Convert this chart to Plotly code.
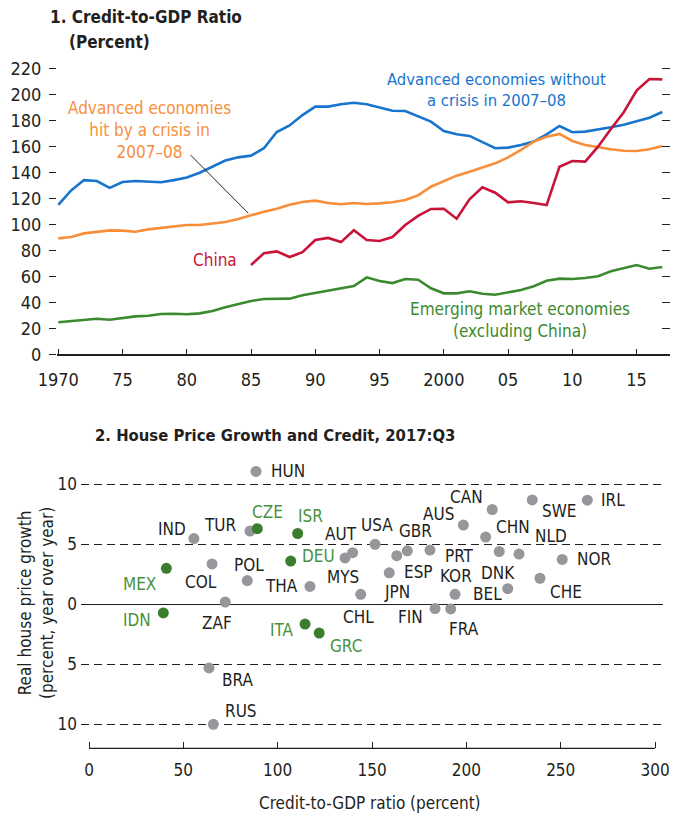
import plotly.graph_objects as go

# ---------------- Panel 1 data ----------------
years = list(range(1970, 2018))
adv_no_crisis = [115, 126, 134, 133.3, 128, 132.5, 133.3, 132.8, 132.3, 134, 136, 139.7, 144.3, 149, 151.5, 152.8,
                 158.5, 171, 176, 184, 190.5, 190.5, 192.3, 193.5, 192.3, 190, 187.4, 187.2, 182.8, 179, 171.8, 169.2,
                 168, 163, 158.5, 159, 161, 163.6, 169.2, 175.6, 170.8, 171.3, 172.8, 174.6, 176.6, 179.2, 182, 186.4]
adv_crisis = [89.2, 90.2, 93, 94.3, 95.3, 95.1, 94.3, 96.1, 97.4, 98.7, 99.5, 99.5, 100.7, 101.8, 104, 106.9,
              109.7, 112, 115.1, 117.2, 118.2, 116.4, 115.4, 116.4, 115.6, 116.1, 116.9, 118.7, 122.3, 128.9, 133.3, 137.4,
              140.5, 143.8, 146.9, 151.5, 157.2, 163.6, 167.4, 169.5, 164.1, 161, 159.2, 157.7, 156.6, 156.4, 157.7, 160.2]
china_years = list(range(1985, 2018))
china = [68.7, 77.7, 79.2, 74.8, 78.5, 87.9, 89.5, 86.3, 95.4, 87.9, 87.2, 90.2, 99.5, 106.4, 111.8, 112, 104.3,
         119.2, 128.5, 124.3, 116.9, 117.7, 116.4, 114.8, 144.3, 148.7, 148.2, 159.7, 173.3, 186.2, 202.8, 211.8, 211.5]
em_ex_china = [24.6, 25.6, 26.1, 27.4, 26.6, 27.9, 29.2, 29.7, 31, 31.2, 30.8, 31.5, 33.3, 36.2, 38.5, 41,
               42.5, 42.8, 42.8, 45.4, 47.2, 48.5, 50.5, 52.5, 59.2, 56.4, 54.8, 57.9, 57.4, 50.8, 46.9, 46.9,
               48.5, 46.6, 45.8, 47.4, 49.5, 52.3, 56.6, 58.2, 57.9, 58.7, 60, 63.8, 66.4, 68.7, 65.8, 67.2]
p1_xtick_vals = [1970, 1975, 1980, 1985, 1990, 1995, 2000, 2005, 2010, 2015]
p1_xtick_text = ["1970", "75", "80", "85", "90", "95", "2000", "05", "10", "15"]
p1_ytick_vals = list(range(0, 221, 20))

# ---------------- Panel 2 data ----------------
countries = ["HUN", "IND", "TUR", "CZE", "ISR", "DEU", "COL", "POL", "THA", "MEX", "IDN", "ZAF", "ITA", "GRC",
             "MYS", "AUT", "USA", "GBR", "ESP", "JPN", "PRT", "KOR", "FIN", "FRA", "CHL", "AUS", "CAN", "CHN",
             "DNK", "NLD", "BEL", "SWE", "IRL", "NOR", "CHE", "BRA", "RUS"]
credit_gdp = [88.5, 55.6, 85.3, 89.2, 110.6, 106.9, 65.2, 83.9, 117.1, 41.0, 39.4, 72.2, 114.5, 122.0,
              135.7, 139.7, 151.6, 168.7, 163.1, 159.1, 180.7, 194.0, 183.4, 191.7, 144.0, 198.4, 213.7, 210.2,
              217.4, 227.9, 221.9, 234.9, 264.1, 250.8, 239.0, 63.6, 65.9]
house_growth = [11.07, 5.48, 6.1, 6.3, 5.9, 3.6, 3.36, 1.98, 1.49, 3.0, -0.72, 0.19, -1.65, -2.4,
                3.86, 4.3, 5.0, 4.46, 4.05, 2.62, 4.52, 0.83, -0.36, -0.39, 0.83, 6.6, 7.9, 5.6,
                4.4, 4.19, 1.3, 8.7, 8.68, 3.74, 2.17, -5.3, -10.0]
highlighted = ["CZE", "ISR", "DEU", "MEX", "IDN", "ITA", "GRC"]
p2_xtick_vals = [0, 50, 100, 150, 200, 250, 300]
p2_ytick_vals = [-10, -5, 0, 5, 10]
p2_ytick_text = ["10", "5", "0", "5", "10"]

# label placement (pixel offsets from the point, anchor)
label_pos = {
    "HUN": (13, 0, "left"), "IND": (-6, 10, "right"), "TUR": (-11, 6, "right"), "CZE": (10, 17, "center"),
    "ISR": (13, 18, "center"), "DEU": (9, 5, "left"), "COL": (-11, -18, "center"), "POL": (2, 16, "center"),
    "THA": (-10, 0, "right"), "MEX": (-8, -16, "right"), "IDN": (-10, -7, "right"), "ZAF": (-8, -21, "center"),
    "ITA": (-9, -6, "right"), "GRC": (9, -13, "left"), "MYS": (-2, -19, "center"), "AUT": (-12, 19, "center"),
    "USA": (2, 19, "center"), "GBR": (8, 20, "center"), "ESP": (22, -16, "center"), "JPN": (8, -19, "center"),
    "PRT": (13, -6, "left"), "KOR": (1, 18, "center"), "FIN": (-10, -8, "right"), "FRA": (13, -20, "center"),
    "CHL": (-2, -23, "center"), "AUS": (-7, 11, "right"), "CAN": (-7, 12, "right"), "CHN": (8, 10, "left"),
    "DNK": (-1, -21, "center"), "NLD": (14, 18, "left"), "BEL": (-4, -5, "right"), "SWE": (8, -11, "left"),
    "IRL": (12, 0, "left"), "NOR": (13, 0, "left"), "CHE": (8, -14, "left"), "BRA": (11, -12, "left"),
    "RUS": (10, 13, "left"),
}

FONT = "DejaVu Sans Condensed, Liberation Sans Narrow, sans-serif"
BLACK = "#231F20"
BLUE = "#1874CD"
ORANGE = "#F98E3A"
RED = "#C8133A"
GREEN_LINE = "#3B8A2F"
GREEN_DOT = "#3A7D2C"
GREEN_TXT = "#4A9140"
GRAY = "#97979B"

W, H = 686, 817

fig = go.Figure()

# Panel 1 traces
fig.add_trace(go.Scatter(x=years, y=adv_no_crisis, mode="lines", line=dict(color=BLUE, width=2.6),
                         xaxis="x", yaxis="y", showlegend=False, hoverinfo="skip"))
fig.add_trace(go.Scatter(x=years, y=adv_crisis, mode="lines", line=dict(color=ORANGE, width=2.6),
                         xaxis="x", yaxis="y", showlegend=False, hoverinfo="skip"))
fig.add_trace(go.Scatter(x=china_years, y=china, mode="lines", line=dict(color=RED, width=2.6),
                         xaxis="x", yaxis="y", showlegend=False, hoverinfo="skip"))
fig.add_trace(go.Scatter(x=years, y=em_ex_china, mode="lines", line=dict(color=GREEN_LINE, width=2.6),
                         xaxis="x", yaxis="y", showlegend=False, hoverinfo="skip"))
# dummy trace for mirrored right ticks
fig.add_trace(go.Scatter(x=[None], y=[None], xaxis="x", yaxis="y3", showlegend=False, hoverinfo="skip"))

# Panel 2 scatter
cols = [GREEN_DOT if c in highlighted else GRAY for c in countries]
fig.add_trace(go.Scatter(x=credit_gdp, y=house_growth, mode="markers",
                         marker=dict(color=cols, size=11, line=dict(width=0)),
                         xaxis="x2", yaxis="y2", showlegend=False, hoverinfo="skip"))

annotations = []
for c, xv, yv in zip(countries, credit_gdp, house_growth):
    dx, dy, anc = label_pos[c]
    annotations.append(dict(x=xv, y=yv, xref="x2", yref="y2", text=c, showarrow=False,
                            xshift=dx, yshift=dy, xanchor=anc, yanchor="middle",
                            font=dict(family=FONT, size=17, color=GREEN_TXT if c in highlighted else BLACK)))

# Panel 1 annotations
annotations += [
    dict(x=2004.1, y=203.3, xref="x", yref="y", text="Advanced economies without<br>a crisis in 2007–08",
         showarrow=False, xanchor="center", yanchor="middle", font=dict(family=FONT, size=16.5, color=BLUE)),
    dict(x=1977.1, y=172.5, xref="x", yref="y", text="Advanced economies<br>hit by a crisis in<br>2007–08",
         showarrow=False, xanchor="center", yanchor="middle", font=dict(family=FONT, size=17, color=ORANGE)),
    dict(x=1984.06, y=72.5, xref="x", yref="y", text="China",
         showarrow=False, xanchor="right", yanchor="middle", font=dict(family=FONT, size=17, color=RED)),
    dict(x=2005.9, y=26, xref="x", yref="y", text="Emerging market economies<br>(excluding China)",
         showarrow=False, xanchor="center", yanchor="middle", font=dict(family=FONT, size=17, color=GREEN_LINE)),
    # titles
    dict(x=48 / W, y=1 - 17 / H, xref="paper", yref="paper", text="<b>1. Credit-to-GDP Ratio</b>",
         showarrow=False, xanchor="left", yanchor="middle", font=dict(family=FONT, size=17, color=BLACK)),
    dict(x=67 / W, y=1 - 42 / H, xref="paper", yref="paper", text="<b>(Percent)</b>",
         showarrow=False, xanchor="left", yanchor="middle", font=dict(family=FONT, size=17, color=BLACK)),
    dict(x=93 / W, y=1 - 435 / H, xref="paper", yref="paper",
         text="<b>2. House Price Growth and Credit, 2017:Q3</b>",
         showarrow=False, xanchor="left", yanchor="middle", font=dict(family=FONT, size=16.5, color=BLACK)),
    # panel 2 axis titles
    dict(x=370 / W, y=1 - 803 / H, xref="paper", yref="paper", text="Credit-to-GDP ratio (percent)",
         showarrow=False, xanchor="center", yanchor="middle", font=dict(family=FONT, size=17, color=BLACK)),
    dict(x=36 / W, y=1 - 603 / H, xref="paper", yref="paper",
         text="Real house price growth<br>(percent, year over year)", textangle=-90,
         showarrow=False, xanchor="center", yanchor="middle", font=dict(family=FONT, size=17, color=BLACK)),
]

shapes = [
    # leader line for the orange label
    dict(type="line", xref="x", yref="y", x0=1980.3, y0=153.2, x1=1984.79, y1=108.5,
         line=dict(color=BLACK, width=1)),
    # panel 2 bottom axis line from 0 to 300
    dict(type="line", xref="x2", yref="y2 domain", x0=0, x1=300, y0=0, y1=0,
         line=dict(color=BLACK, width=1.3)),
]

tickfont = dict(family=FONT, size=18, color=BLACK)

fig.update_layout(
    template="none",
    width=W, height=H, autosize=False,
    margin=dict(l=0, r=0, t=0, b=0, pad=0, autoexpand=False),
    paper_bgcolor="white", plot_bgcolor="white",
    font=dict(family=FONT, color=BLACK),
    showlegend=False,
    annotations=annotations, shapes=shapes,
    xaxis=dict(domain=[57 / W, 670 / W], anchor="y", range=[1969.9, 2017.6], automargin=False,
               tickvals=p1_xtick_vals, ticktext=p1_xtick_text, ticks="inside", ticklen=6,
               tickwidth=1.3, tickcolor=BLACK, showline=True, linecolor=BLACK, linewidth=1.5,
               showgrid=False, zeroline=False, tickfont=tickfont, ticklabelstandoff=8),
    yaxis=dict(domain=[1 - 354.3 / H, 1 - 61.8 / H], anchor="x", range=[0, 225], automargin=False,
               tickvals=p1_ytick_vals, ticks="outside", ticklen=7, tickwidth=1.3, tickcolor=BLACK,
               showline=False, showgrid=False, zeroline=False, tickfont=tickfont, ticklabelstandoff=4),
    yaxis3=dict(overlaying="y", side="right", anchor="x", range=[0, 225], tickvals=p1_ytick_vals,
                automargin=False,
                ticks="inside", ticklen=8, tickwidth=1.3, tickcolor=BLACK, showticklabels=False,
                showline=False, showgrid=False, zeroline=False),
    xaxis2=dict(domain=[81 / W, 663 / W], anchor="y2", range=[-4.24, 304.2], automargin=False,
                tickvals=p2_xtick_vals, ticks="inside", ticklen=6, tickwidth=1.3, tickcolor=BLACK,
                showline=False, showgrid=False, zeroline=False,
                tickfont=dict(family=FONT, size=17, color=BLACK), ticklabelstandoff=10),
    yaxis2=dict(domain=[1 - 748.3 / H, 1 - 454.3 / H], anchor="x2", range=[-12, 12.5], automargin=False,
                tickvals=p2_ytick_vals, ticktext=p2_ytick_text, ticks="", showline=False,
                showgrid=True, gridcolor=BLACK, gridwidth=1.2, griddash="8px,5px",
                zeroline=True, zerolinecolor=BLACK, zerolinewidth=1.3,
                tickfont=dict(family=FONT, size=17, color=BLACK), ticklabelstandoff=3),
)

fig.write_html("out.html", config={"displayModeBar": False},
               post_script="document.body.style.margin='0';")
